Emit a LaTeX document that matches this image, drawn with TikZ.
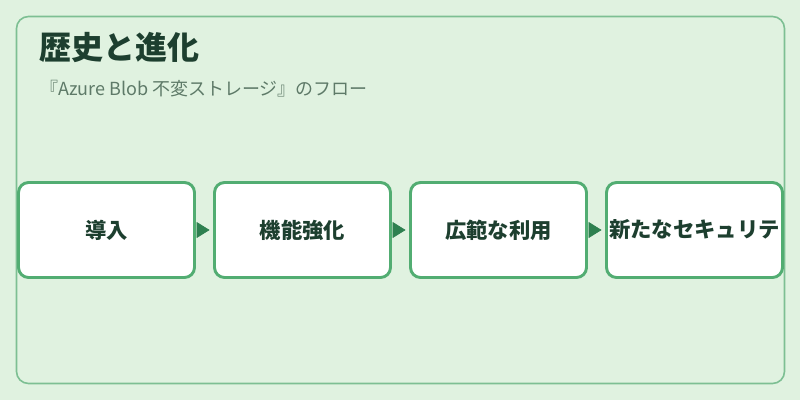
\documentclass[tikz,border=0pt]{standalone}
\usepackage{fontspec}
\setmainfont{Noto Sans CJK JP}
\usetikzlibrary{arrows.meta}
\definecolor{paleleaf}{HTML}{E0F2E0}
\definecolor{framegreen}{HTML}{7DBF93}
\definecolor{boxgreen}{HTML}{52AD72}
\definecolor{arrowgreen}{HTML}{2E8050}
\definecolor{titleink}{HTML}{1D3F2F}
\definecolor{subink}{HTML}{5E7A68}
\tikzset{stage/.style={draw=boxgreen, line width=2.2pt, fill=white, rounded corners=7.5pt,
    minimum width=132pt, minimum height=71.25pt, inner sep=0pt,
    font=\fontsize{16}{18}\selectfont\bfseries, text=titleink}}
\tikzset{flow/.style={draw=arrowgreen, line width=0.5pt, shorten <=2.6pt, shorten >=2.6pt,
    -{Triangle[length=9.75pt, width=12pt]}, color=arrowgreen}}

\begin{document}
\begin{tikzpicture}[x=0.75pt, y=-0.75pt]
        \useasboundingbox[fill=paleleaf] (0,0) rectangle (800,400);
        \draw[framegreen, line width=1.2pt, rounded corners=9pt] (16.5,16.5) rectangle (784.5,383.5);

        \node[anchor=base west, inner sep=0pt, font=\fontsize{24}{27}\selectfont\bfseries, text=titleink] (title) at (39,59) {歴史と進化};
        \node[anchor=base west, inner sep=0pt, font=\fontsize{13.5}{15}\selectfont, text=subink] (subtitle) at (40,95) {『Azure Blob 不変ストレージ』のフロー};

        \node[stage] (S1) at (106.5, 230) {導入};
        \node[stage] (S2) at (302.5, 230) {機能強化};
        \node[stage] (S3) at (498.5, 230) {広範な利用};
        \node[stage] (S4) at (694.5, 230) {新たなセキュリテ};

        \draw [flow] (S1) -- (S2);
        \draw [flow] (S2) -- (S3);
        \draw [flow] (S3) -- (S4);
    \end{tikzpicture}
\end{document}
